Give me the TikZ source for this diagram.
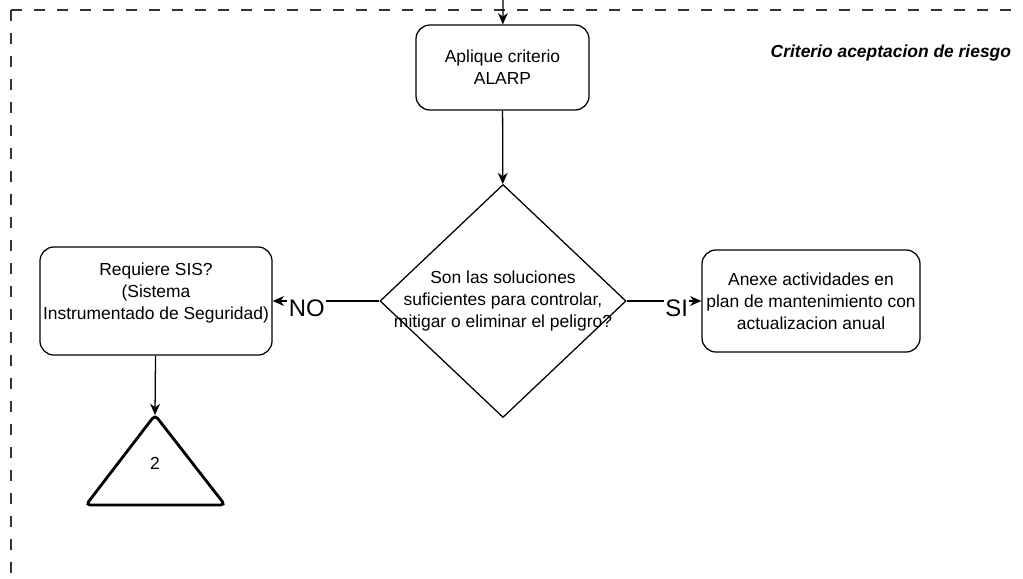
\documentclass[tikz,border=0pt]{standalone}
\usepackage{fontspec}
\setmainfont{Liberation Sans}
\usetikzlibrary{arrows.meta,shapes.geometric}
\begin{document}
\begin{tikzpicture}[x=0.025cm, y=-0.025cm, font=\fontsize{12.4}{15.6}\selectfont,
  box/.style={draw, rounded corners=10pt, align=center, inner sep=0pt, line width=0.9pt},
  flow/.style={-{Stealth[length=8pt, width=7pt, inset=2.5pt]}, line width=0.9pt},
  answer/.style={fill=white, font=\fontsize{17}{19}\selectfont, inner sep=1pt},
  frame/.style={dash pattern=on 0.275cm off 0.3cm, line width=1pt, black!80}]
\useasboundingbox (0,0) rectangle (1023,578);
\draw[frame] (11,10) -- (1023,10) (11,10) -- (11,578);
\node[anchor=east, font=\fontsize{12.4}{15.6}\selectfont\bfseries\itshape] (title) at (1016,53) {Criterio aceptacion de riesgo};
\coordinate (entry) at (503,0);
\node[box, minimum width=4.325cm, minimum height=2.125cm] (alarp) at (502.5,67.5) {Aplique criterio\\ALARP};
\node[diamond, draw, line width=0.9pt, inner sep=0pt, minimum width=6.15cm, minimum height=5.825cm, label={[align=center]center:Son las soluciones\\suficientes para controlar,\\mitigar o eliminar el peligro?}] (check) at (503,301) {};
\node[box, minimum width=5.8cm, minimum height=2.7cm, text depth=14pt] (sis) at (156,301) {Requiere SIS?\\(Sistema\\Instrumentado de Seguridad)};
\node[box, minimum width=5.45cm, minimum height=2.55cm] (annex) at (811,301) {Anexe actividades en\\plan de mantenimiento con\\actualizacion anual};
\coordinate (apex) at (155,415);
\draw[line width=2pt, rounded corners=3pt] (apex) -- (225,505) -- (86,505) -- cycle;
\node (two) at (155,463) {2};
\draw[flow] (entry) -- (alarp);
\draw[flow] (alarp) -- (check);
\draw[flow] (check) -- node[answer, pos=0.68, yshift=-5pt] {NO} (sis);
\draw[flow] (check) -- node[answer, pos=0.67, yshift=-5pt] {SI} (annex);
\draw[flow] (sis) -- (apex);
\end{tikzpicture}
\end{document}
